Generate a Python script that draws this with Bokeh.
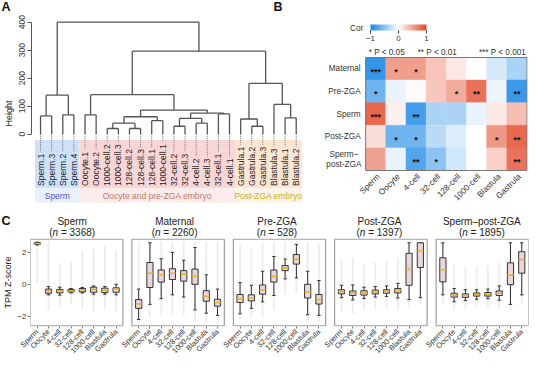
import math
import numpy as np
from bokeh.plotting import figure
from bokeh.models import (ColumnDataSource, FixedTicker, LinearAxis, Range1d,
                          ColorBar, LinearColorMapper)
from bokeh.transform import transform
from bokeh.layouts import column
from bokeh.embed import file_html
from bokeh.resources import INLINE
from bokeh.core.properties import value

FONT = "Liberation Sans"

# ================= DATA =================
# ---- Panel A: hierarchical clustering of samples (leaf order as drawn)
leaf_labels = ["Sperm.1", "Sperm.3", "Sperm.2", "Sperm.4", "Oocyte.1", "Oocyte.2",
               "1000-cell.2", "1000-cell.3", "128-cell.2", "128-cell.3", "128-cell.1",
               "1000-cell.1", "32-cell.2", "32-cell.3", "4-cell.2", "4-cell.3",
               "32-cell.1", "4-cell.1", "Gastrula.1", "Gastrula.2", "Gastrula.3",
               "Blastula.3", "Blastula.1", "Blastula.2"]
# merges (R hclust style): negative = leaf -(i+1), positive = earlier merge number
merge_a = [-7, -9, -20, -13, 1, -15, -11, -19, 4, -23, 5, -1, -3, -5, -17, 9, 11, -22, 12, 14, 8, 20, 19]
merge_b = [-8, -10, -21, -14, 2, -16, -12, 3, 6, -24, 7, -2, -4, -6, -18, 15, 16, 10, 13, 17, 18, 21, 22]
merge_height = [20, 20, 28, 28, 39, 39, 48, 54, 56, 58, 62, 65, 69, 69, 72, 75, 86, 106, 139, 141, 181, 296, 400]
height_ticks = [0, 100, 200, 300, 400]
group_names = ["Sperm", "Oocyte and pre-ZGA embryo", "Post-ZGA embryo"]
group_sizes = [4, 14, 6]

# ---- Panel B: correlation heatmap
cor_rows = ["Maternal", "Pre-ZGA", "Sperm", "Post-ZGA", "Sperm\u2013\npost-ZGA"]
cor_cols = ["Sperm", "Oocyte", "4-cell", "32-cell", "128-cell", "1000-cell", "Blastula", "Gastrula"]
cor_maternal = [-0.88, 0.52, 0.52, 0.32, 0.12, 0.0, -0.18, -0.36]
cor_prezga = [-0.62, -0.1, 0.03, 0.3, 0.45, 0.75, -0.08, -0.85]
cor_sperm = [0.8, 0.08, -0.82, -0.36, -0.36, -0.1, 0.12, 0.35]
cor_postzga = [0.18, -0.62, -0.62, -0.3, -0.15, 0.0, 0.55, 0.8]
cor_sperm_post = [0.5, -0.1, -0.75, -0.5, -0.2, 0.0, 0.25, 0.75]
sig_maternal = ["***", "*", "*", "", "", "", "", ""]
sig_prezga = ["*", "", "", "", "*", "**", "", "**"]
sig_sperm = ["***", "", "**", "", "", "", "", ""]
sig_postzga = ["", "*", "*", "", "", "", "*", "**"]
sig_sperm_post = ["", "", "**", "*", "", "", "", "**"]
pval_legend = ["* P < 0.05", "** P < 0.01", "*** P < 0.001"]

# ---- Panel C: TPM Z-score box plots per gene cluster
stages = ["Sperm", "Oocyte", "4-cell", "32-cell", "128-cell", "1000-cell", "Blastula", "Gastrula"]
cluster_names = ["Sperm", "Maternal", "Pre-ZGA", "Post-ZGA", "Sperm\u2013post-ZGA"]
cluster_n = [3368, 2260, 528, 1397, 1895]

sperm_med = [2.60, -0.39, -0.39, -0.37, -0.33, -0.29, -0.35, -0.27]
sperm_q1 = [2.55, -0.53, -0.51, -0.45, -0.45, -0.47, -0.49, -0.47]
sperm_q3 = [2.65, -0.27, -0.29, -0.29, -0.23, -0.15, -0.21, -0.19]
sperm_lo = [2.50, -0.63, -0.65, -0.51, -0.51, -0.59, -0.59, -0.63]
sperm_hi = [2.68, -0.11, -0.15, -0.23, -0.17, -0.07, -0.11, 0.03]
sperm_pmin = [0.1, -1.6, -1.3, -1.2, -1.5, -1.7, -1.5, -1.7]
sperm_pmax = [2.7, 2.75, 1.35, 1.45, 2.15, 2.25, 2.45, 2.15]

mat_med = [-1.19, 0.73, 0.63, 0.73, 0.67, 0.53, -0.73, -1.11]
mat_q1 = [-1.48, -0.17, 0.17, 0.33, 0.23, 0.03, -1.03, -1.34]
mat_q3 = [-0.93, 1.40, 0.93, 1.01, 0.89, 0.99, -0.37, -0.91]
mat_lo = [-2.18, -1.23, -0.87, -0.63, -0.77, -1.58, -1.78, -1.92]
mat_hi = [-0.27, 2.64, 1.64, 2.04, 1.54, 2.34, 0.63, -0.27]
mat_pmin = [-2.5, -2.0, -1.9, -1.8, -1.9, -2.3, -2.4, -2.5]
mat_pmax = [2.7, 2.75, 2.7, 2.7, 2.7, 2.7, 2.7, 2.7]

pre_med = [-0.87, -0.83, -0.33, 0.53, 1.05, 1.60, -0.47, -0.93]
pre_q1 = [-1.11, -1.01, -0.59, 0.17, 0.89, 1.30, -0.83, -1.21]
pre_q3 = [-0.61, -0.63, -0.01, 0.93, 1.21, 1.90, 0.03, -0.61]
pre_lo = [-1.82, -1.48, -1.07, -0.67, 0.37, 0.43, -1.88, -1.92]
pre_hi = [0.13, -0.03, 0.85, 1.78, 1.62, 2.54, 0.85, 0.27]
pre_pmin = [-2.2, -2.1, -2.0, -1.5, -0.6, -0.5, -2.3, -2.3]
pre_pmax = [2.5, 2.3, 2.6, 2.7, 2.7, 2.75, 2.7, 2.6]

post_med = [-0.43, -0.53, -0.51, -0.43, -0.41, -0.35, 0.97, 2.14]
post_q1 = [-0.57, -0.67, -0.65, -0.57, -0.53, -0.51, -0.03, 1.09]
post_q3 = [-0.31, -0.39, -0.37, -0.33, -0.31, -0.23, 1.98, 2.64]
post_lo = [-0.81, -0.95, -0.87, -0.77, -0.73, -0.83, -0.93, -0.81]
post_hi = [-0.03, -0.01, -0.15, -0.11, -0.07, 0.09, 2.64, 2.64]
post_pmin = [-1.7, -1.8, -1.6, -1.5, -1.5, -1.6, -1.4, -1.2]
post_pmax = [1.6, 1.7, 1.3, 1.4, 1.5, 1.7, 2.7, 2.7]

sp_med = [0.93, -0.65, -0.67, -0.61, -0.59, -0.53, 0.61, 1.58]
sp_q1 = [0.19, -0.77, -0.79, -0.71, -0.71, -0.67, 0.01, 0.73]
sp_q3 = [1.70, -0.53, -0.57, -0.51, -0.49, -0.39, 1.38, 2.08]
sp_lo = [-0.63, -1.07, -0.99, -0.91, -0.87, -0.97, -1.23, -0.63]
sp_hi = [2.64, -0.23, -0.31, -0.31, -0.27, -0.07, 2.64, 2.64]
sp_pmin = [-1.2, -1.6, -1.5, -1.4, -1.4, -1.5, -1.6, -1.2]
sp_pmax = [2.7, 1.3, 1.1, 1.2, 1.2, 1.4, 2.7, 2.7]

# ================= HELPERS =================
NBSP = "\u00a0"
CW = {c: 0.556 for c in "0123456789"}
CW.update({'S': .667, 'p': .556, 'e': .556, 'r': .333, 'm': .833, '.': .278, 'O': .778,
           'o': .556, 'c': .5, 'y': .5, 't': .278, '-': .333, 'l': .222, 'G': .778,
           'a': .556, 's': .5, 'u': .556, 'B': .667, 'b': .556, ' ': .278, NBSP: .278,
           '=': .584, '(': .333, ')': .333, 'n': .556})


def text_px(s, size):
    return sum(CW.get(ch, 0.55) for ch in s) * size


def make_fig(w, h, xr, yr, l, r, t, b):
    p = figure(width=w, height=h, x_range=xr, y_range=yr, title=None,
               min_border_left=l, min_border_right=r, min_border_top=t, min_border_bottom=b,
               x_axis_type=None, y_axis_type=None, output_backend="svg",
               toolbar_location=None)
    p.frame_align = False
    p.outline_line_color = None
    return p


W = 534
LETTER_FS = "12.5px"

# ================= STRIP 1 (panel letters A, B) =================
strip1 = make_fig(W, 13, (0, W), (13, 0), 0, 0, 0, 0)
strip1.text(x=[1, 273], y=[6.5, 6.5], text=["A", "B"], text_font=value(FONT),
            text_font_style="bold", text_font_size=LETTER_FS, text_align="left",
            text_baseline="middle", text_color="#111111")

# ================= TOP ROW: PANEL A (default ranges) + PANEL B (extra ranges) =========
T_LEFT, T_RIGHT, T_H = 29, 7, 200
FRAME_W = W - T_LEFT - T_RIGHT
A_PX = 11.16            # pixels per leaf
A_X0 = -0.815
A_UPP = 3.571           # height units per pixel
figT = make_fig(W, T_H, (A_X0, A_X0 + FRAME_W / A_PX), (-283.5, 430.7), T_LEFT, T_RIGHT, 0, 0)

B_CELL = 20.25          # pixels per heatmap column
B_ROWH = 22.6           # pixels per heatmap row
B_LEFT = 335.5          # heatmap left edge, pixels from frame left
hm_x0 = -B_LEFT / B_CELL
figT.extra_x_ranges = {"hm": Range1d(hm_x0, hm_x0 + FRAME_W / B_CELL)}
figT.extra_y_ranges = {"hm": Range1d(5 - 156 / B_ROWH, 5 + 44 / B_ROWH)}
HM = dict(x_range_name="hm", y_range_name="hm")

yax = LinearAxis(ticker=FixedTicker(ticks=height_ticks), bounds=(0, 400),
                 axis_label="Height")
yax.major_label_orientation = "parallel"
yax.major_label_text_font = FONT
yax.major_label_text_font_size = "8.5px"
yax.major_label_text_color = "#333333"
yax.axis_label_text_font = FONT
yax.axis_label_text_font_size = "9px"
yax.axis_label_text_font_style = "normal"
yax.axis_label_text_color = "#222222"
yax.axis_line_color = "#555555"
yax.major_tick_line_color = "#555555"
yax.major_tick_out = 4
yax.major_tick_in = 0
yax.minor_tick_line_color = None
yax.major_label_standoff = 2
yax.axis_label_standoff = 3
figT.add_layout(yax, "left")

# --- panel A
band_fill = ["#cfe1fa", "#f9d6d6", "#fce6d2"]
band_light = ["#e8f0fc", "#fcebeb", "#fdf2e8"]
group_text = ["#5050d8", "#c07868", "#c8b020"]
edges = np.concatenate([[0], np.cumsum(group_sizes)])
g_left = list(edges[:-1] - 0.5)
g_right = list(edges[1:] - 0.5)
g_center = [(a + b) / 2 for a, b in zip(g_left, g_right)]
figT.quad(left=g_left, right=g_right, top=-20.7, bottom=-193.6, fill_color=band_fill,
          line_color=None)
figT.quad(left=g_left, right=g_right, top=-193.6, bottom=-245.0, fill_color=band_light,
          line_color=None)
figT.text(x=g_center, y=[-220] * 3, text=group_names, text_color=group_text,
          text_font=value(FONT), text_font_size="8.5px", text_align="center",
          text_baseline="middle")

LEAF_FS = 8.5
label_bottom = -185.0
leaf_x = list(range(len(leaf_labels)))
label_top = [label_bottom + (text_px(s, LEAF_FS) + 2) * A_UPP for s in leaf_labels]
figT.segment(x0=leaf_x, y0=[0] * len(leaf_x), x1=leaf_x, y1=label_top,
             line_color="#777777", line_dash="1 1", line_width=1)
figT.text(x=leaf_x, y=[label_bottom] * len(leaf_x), text=leaf_labels, angle=math.pi / 2,
          text_font=value(FONT), text_font_size=f"{LEAF_FS}px", text_align="left",
          text_baseline="middle", text_color="#222222")

mx = []


def node(c):
    if c < 0:
        return float(-c - 1), 0.0
    return mx[c - 1], merge_height[c - 1]


sx0, sy0, sx1, sy1 = [], [], [], []
for a, b, h in zip(merge_a, merge_b, merge_height):
    xa, ha = node(a)
    xb, hb = node(b)
    sx0 += [xa, xb, xa]
    sy0 += [ha, hb, h]
    sx1 += [xa, xb, xb]
    sy1 += [h, h, h]
    mx.append((xa + xb) / 2)
figT.segment(x0=sx0, y0=sy0, x1=sx1, y1=sy1, line_color="#555555", line_width=1.3)

# --- panel B
blue = np.array([0x1a, 0x87, 0xe6])
white = np.array([0xff, 0xff, 0xff])
red = np.array([0xe3, 0x45, 0x25])
pal = []
for t in np.linspace(0, 1, 256):
    c = blue + (white - blue) * (t / 0.5) if t <= 0.5 else white + (red - white) * ((t - 0.5) / 0.5)
    pal.append("#%02x%02x%02x" % tuple(int(round(v)) for v in c))
mapper = LinearColorMapper(palette=pal, low=-1, high=1)

cor_mat = [cor_maternal, cor_prezga, cor_sperm, cor_postzga, cor_sperm_post]
sig_mat = [sig_maternal, sig_prezga, sig_sperm, sig_postzga, sig_sperm_post]
nr = len(cor_rows)
nc = len(cor_cols)
hx, hy, hv, hs = [], [], [], []
for r, (vals, sigs) in enumerate(zip(cor_mat, sig_mat)):
    for c, (v, s) in enumerate(zip(vals, sigs)):
        hx.append(c + 0.5)
        hy.append(nr - r - 0.5)
        hv.append(v)
        hs.append(s)
hsrc = ColumnDataSource(dict(x=hx, y=hy, v=hv, s=hs))
figT.rect(x="x", y="y", width=1, height=1, source=hsrc,
          fill_color=transform("v", mapper), line_color=transform("v", mapper),
          line_width=0.5, **HM)
figT.text(x="x", y="y", text="s", source=hsrc, text_font=value(FONT), text_font_size="9px",
          text_font_style="bold", text_align="center", text_baseline="middle",
          y_offset=3, text_color="#111111", **HM)
figT.rect(x=[nc / 2], y=[nr / 2], width=nc, height=nr,
          fill_color=None, line_color="#7a7a7a", line_width=1, **HM)

ROW_FS = 8.2
row_right = -0.25
row_align = ["center" if "\n" in s else "right" for s in cor_rows]
row_x = [row_right - (max(text_px(l, ROW_FS) for l in s.split("\n")) / 2) / B_CELL
         if "\n" in s else row_right for s in cor_rows]
figT.text(x=row_x, y=[nr - r - 0.5 for r in range(nr)], text=cor_rows,
          text_font=value(FONT), text_font_size=f"{ROW_FS}px", text_align=row_align,
          text_baseline="middle", text_color="#333333", text_line_height=1.1, **HM)

figT.text(x=[c + 0.62 for c in range(nc)], y=[-0.2] * nc, text=cor_cols, angle=math.pi / 4,
          text_font=value(FONT), text_font_size="8.3px", text_align="right",
          text_baseline="middle", text_color="#333333", **HM)

cb = ColorBar(color_mapper=mapper, orientation="horizontal", width=56, height=6,
              location=(B_LEFT + 3.5, 170), ticker=FixedTicker(ticks=[-1, 0, 1]),
              padding=0, margin=0,
              major_label_text_font=FONT, major_label_text_font_size="8px",
              major_label_text_color="#333333", major_tick_line_color="#333333",
              major_tick_in=0, major_tick_out=3, label_standoff=2, bar_line_color=None,
              background_fill_color=None, border_line_color=None)
figT.add_layout(cb)
figT.text(x=[-0.12], y=[6.283], text=["Cor"], text_font=value(FONT), text_font_size="8.2px",
          text_align="right", text_baseline="middle", text_color="#333333", **HM)
figT.text(x=[0.15, 2.58, 7.95], y=[5.239] * 3, text=pval_legend, text_font=value(FONT),
          text_font_size="8.2px", text_align=["left", "left", "right"],
          text_baseline="middle", text_color="#333333", **HM)

# ================= PANEL C =================
c_data = [
    (sperm_med, sperm_q1, sperm_q3, sperm_lo, sperm_hi, sperm_pmin, sperm_pmax),
    (mat_med, mat_q1, mat_q3, mat_lo, mat_hi, mat_pmin, mat_pmax),
    (pre_med, pre_q1, pre_q3, pre_lo, pre_hi, pre_pmin, pre_pmax),
    (post_med, post_q1, post_q3, post_lo, post_hi, post_pmin, post_pmax),
    (sp_med, sp_q1, sp_q3, sp_lo, sp_hi, sp_pmin, sp_pmax),
]
PITCH = 9
XP = (-0.6, 7.6)            # panel extent in category units
YP = (-2.58, 2.87)          # panel extent in z-score units
C_LEFT, C_RIGHT = 25, 6
cx0 = XP[0]
cx1 = (len(cluster_names) - 1) * PITCH + XP[1]
UPX = (cx1 - cx0) / (W - C_LEFT - C_RIGHT)
figC = make_fig(W, 125, (cx0, cx1), (-2.62, 2.91), C_LEFT, C_RIGHT, 0, 37)

all_x, all_lab = [], []
for k, (med, q1, q3, lo, hi, pmin, pmax) in enumerate(c_data):
    off = k * PITCH
    xs = [off + i for i in range(len(stages))]
    all_x += xs
    all_lab += stages
    src = ColumnDataSource(dict(
        x=xs, med=med, q1=q1, q3=q3, lo=lo, hi=hi, pmin=pmin, pmax=pmax,
        xl=[x - 0.15 for x in xs], xr=[x + 0.15 for x in xs],
        ml=[x - 0.27 for x in xs], mr=[x + 0.27 for x in xs]))
    figC.segment(x0="x", y0="pmin", x1="x", y1="pmax", source=src, line_color="#c8bcc0",
                 line_alpha=0.3, line_width=1.8)
    figC.segment(x0="x", y0="q3", x1="x", y1="hi", source=src, line_color="#333333", line_width=1)
    figC.segment(x0="x", y0="q1", x1="x", y1="lo", source=src, line_color="#333333", line_width=1)
    figC.segment(x0="xl", y0="hi", x1="xr", y1="hi", source=src, line_color="#333333", line_width=1)
    figC.segment(x0="xl", y0="lo", x1="xr", y1="lo", source=src, line_color="#333333", line_width=1)
    figC.vbar(x="x", top="q3", bottom="q1", width=0.55, source=src, fill_color="#ead6d9",
              line_color="#333333", line_width=1)
    figC.segment(x0="ml", y0="med", x1="mr", y1="med", source=src, line_color="#e2b23a",
                 line_width=1.6)

panel_cx = [k * PITCH + (XP[0] + XP[1]) / 2 for k in range(len(cluster_names))]
figC.rect(x=panel_cx, y=(YP[0] + YP[1]) / 2, width=XP[1] - XP[0], height=YP[1] - YP[0],
          fill_color=None, line_color="#8c8c8c", line_width=1)

xa = LinearAxis(ticker=FixedTicker(ticks=all_x))
xa.major_label_overrides = {x: s for x, s in zip(all_x, all_lab)}
xa.major_label_orientation = math.pi / 4
xa.major_label_text_font = FONT
xa.major_label_text_font_size = "7.5px"
xa.major_label_text_color = "#333333"
xa.axis_line_color = None
xa.major_tick_line_color = "#777777"
xa.major_tick_out = 2
xa.major_tick_in = 0
xa.minor_tick_line_color = None
xa.major_label_standoff = 2
figC.add_layout(xa, "below")

ya = LinearAxis(ticker=FixedTicker(ticks=[-2, 0, 2]), axis_label="TPM Z-score")
ya.major_label_text_font = FONT
ya.major_label_text_font_size = "8px"
ya.major_label_text_color = "#333333"
ya.axis_label_text_font = FONT
ya.axis_label_text_font_size = "9px"
ya.axis_label_text_font_style = "normal"
ya.axis_label_text_color = "#222222"
ya.axis_line_color = None
ya.major_tick_line_color = "#777777"
ya.major_tick_out = 3
ya.major_tick_in = 0
ya.minor_tick_line_color = None
ya.major_label_standoff = 1
ya.axis_label_standoff = 1
figC.add_layout(ya, "left")

# ================= STRIP 2 (letter C + panel titles) =================
TFS = 10
strip2 = make_fig(W, 25, (cx0 - C_LEFT * UPX, cx1 + C_RIGHT * UPX), (25, 0), 0, 0, 0, 0)
strip2.text(x=[cx0 - (C_LEFT - 1) * UPX], y=[7.5], text=["C"], text_font=value(FONT),
            text_font_style="bold", text_font_size=LETTER_FS, text_align="left",
            text_baseline="middle", text_color="#111111")
strip2.text(x=panel_cx, y=[8.0] * len(panel_cx), text=cluster_names, text_font=value(FONT),
            text_font_size=f"{TFS}px", text_align="center", text_baseline="middle",
            text_color="#222222")
rest = [f"{NBSP}={NBSP}{n})" for n in cluster_n]
wtot = [text_px("(n" + s, TFS) for s in rest]
off0 = [-w / 2 for w in wtot]
strip2.text(x=panel_cx, y=[19.0] * len(panel_cx), text=["("] * len(panel_cx),
            x_offset=off0, text_font=value(FONT), text_font_size=f"{TFS}px",
            text_align="left", text_baseline="middle", text_color="#222222")
strip2.text(x=panel_cx, y=[19.0] * len(panel_cx), text=["n"] * len(panel_cx),
            x_offset=[o + text_px("(", TFS) for o in off0], text_font=value(FONT),
            text_font_style="italic", text_font_size=f"{TFS}px",
            text_align="left", text_baseline="middle", text_color="#222222")
strip2.text(x=panel_cx, y=[19.0] * len(panel_cx), text=rest,
            x_offset=[o + text_px("(n", TFS) for o in off0], text_font=value(FONT),
            text_font_size=f"{TFS}px", text_align="left", text_baseline="middle",
            text_color="#222222")

layout = column(strip1, figT, strip2, figC)
open("out.html", "w").write(file_html(layout, INLINE))
